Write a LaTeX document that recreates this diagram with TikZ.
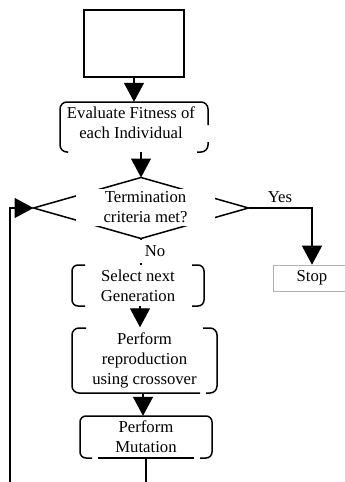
\documentclass[tikz,border=0pt]{standalone}
\usepackage{fontspec}
\setmainfont{Liberation Serif}
\usetikzlibrary{arrows.meta,calc}
\begin{document}
\begin{tikzpicture}[x=1pt,y=-1pt,
  txt/.style={font=\fontsize{16.7}{20}\selectfont, align=center, inner sep=0pt},
  outl/.style={line width=1.5pt, rounded corners=6pt},
  conn/.style={line width=1.3pt},
  arr/.style={conn, -{Triangle[width=20pt,length=19pt]}}]
\useasboundingbox (0,0) rectangle (345,482);

% start box
\node[draw, line width=1.6pt, minimum width=100pt, minimum height=67pt, inner sep=0pt] (top) at (134,43.5) {};

% evaluate box
\node[txt, minimum width=148pt, minimum height=50pt] (eval) at (134,127) {};
\node[txt] (evaltxt) at (131,123) {Evaluate Fitness of\\each Individual};
\draw[outl, rounded corners=7pt] (68,152) -| (60,102) -| (208,125);
\draw[outl, rounded corners=7pt] (208,142) |- (197,152);

% decision
\coordinate (dT) at (141,177.5);
\coordinate (dL) at (33.5,208);
\coordinate (dR) at (248.5,208);
\coordinate (dB) at (141,238.5);
\draw[line width=1.5pt] (dT) -- (dR) -- (dB) -- (dL) -- cycle;
\node[txt, fill=white, minimum width=139pt, minimum height=37.5pt] (dia) at (145.5,207.5) {Termination\\criteria met?};

% select box
\node[txt, minimum width=132pt, minimum height=41pt] (sel) at (138,285.5) {Select next\\Generation};
\draw[outl] (85,265) -| (72,306) -- (85,306);
\draw[outl] (192,265) -| (204,306) -- (192,306);

% reproduction box
\node[txt, minimum width=145pt, minimum height=65pt] (rep) at (144.5,360) {Perform\\reproduction\\using crossover};
\draw[outl, rounded corners=7pt] (86,328) -| (72,393) -- (200,393);
\draw[outl, rounded corners=7pt] (203,328) -| (217,393) -- (206,393);

% mutation box
\node[txt, minimum width=132pt, minimum height=42pt] (mut) at (146,437) {Perform\\Mutation};
\draw[outl] (92,458) -| (80,416) -| (212,458) -- (200,458);
\draw[outl] (98,458) -- (194,458);

% stop box
\node[txt, draw=gray!60, line width=0.6pt, minimum width=78pt, minimum height=26pt] (stop) at (312,278) {Stop};

% connectors
\draw[arr] (top.south) -- (top.south |- eval.north);
\draw[arr] (eval.south -| dT) -- (dT);
\draw[conn] (dB) -- (dB |- sel.north);
\node[txt, fill=white, minimum width=60pt, minimum height=23pt] (no) at (155,251) {No};
\draw[arr] (dR) -| (stop.north);
\node[txt] (yes) at (280,197) {Yes};
\coordinate (fb) at (10,482);
\draw[arr] (fb) |- (dL);
\draw[arr] ([xshift=2pt]sel.south) -- ([xshift=2pt]sel.south |- rep.north);
\draw[arr] ([xshift=-1.5pt]rep.south) -- ([xshift=-1.5pt]rep.south |- mut.north);
\coordinate (mb) at (146,482);
\draw[conn] (mut.south) -- (mb);
\end{tikzpicture}
\end{document}
